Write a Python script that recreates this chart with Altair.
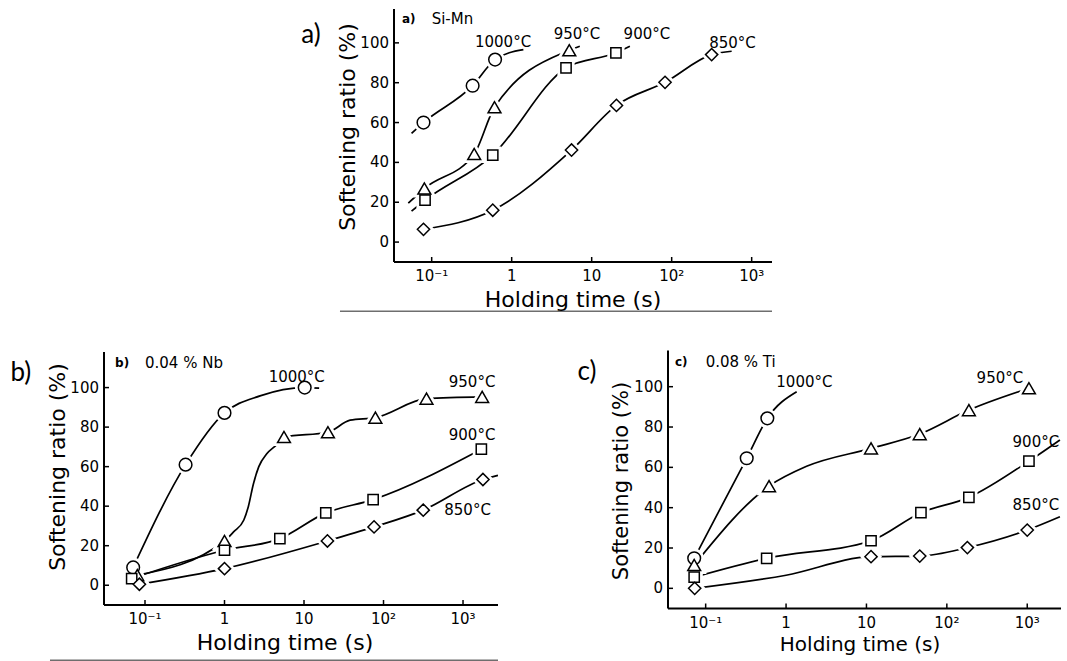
import math
import altair as alt
import pandas as pd

# ---------------- axis ticks ----------------
XTICKS = [0.1, 1, 10, 100, 1000]
XTICK_LABELS = ["10⁻¹", "1", "10", "10²", "10³"]
YTICKS = [0, 20, 40, 60, 80, 100]
YTICK_LABELS = ["0", "20", "40", "60", "80", "100"]
TEMPS = ["1000", "950", "900", "850"]
X_TITLE = "Holding time (s)"
Y_TITLE = "Softening ratio (%)"

# ---------------- panel a) Si-Mn ----------------
a_1000_t = [0.079, 0.325, 0.62]
a_1000_v = [60, 78.5, 91.6]
a_950_t = [0.081, 0.34, 0.61, 5.25]
a_950_v = [26.9, 44.2, 67.7, 96.3]
a_900_t = [0.0826, 0.58, 4.78, 20.1]
a_900_v = [21, 43.7, 87.4, 95]
a_850_t = [0.079, 0.58, 5.6, 20.4, 82.6, 316]
a_850_v = [6.4, 16, 46.2, 68.6, 80.2, 94.1]
# points (curve ends / bends)
a_1000_ct = [0.056, 1.4]
a_1000_cv = [54.6, 96.6]
a_950_ct = [0.051, 7.1]
a_950_cv = [19.5, 98.3]
a_900_ct = [0.056, 30]
a_900_cv = [15.5, 98.3]
a_850_ct = [562]
a_850_cv = [95.8]

# ---------------- panel b) 0.04 % Nb ----------------
b_1000_t = [0.071, 0.324, 1.0, 10.2]
b_1000_v = [9, 61, 87.2, 100]
b_950_t = [0.080, 1.0, 5.6, 20, 79, 347, 1740]
b_950_v = [5.1, 22.4, 75, 77.4, 84.8, 94.4, 95.3]
b_900_t = [0.068, 1.0, 4.97, 18.8, 74, 1700]
b_900_v = [3.4, 17.7, 23.6, 36.6, 43.3, 68.8]
b_850_t = [0.085, 1.0, 19.7, 76, 316, 1780]
b_850_v = [0.5, 8.4, 22.4, 29.5, 38, 53.5]
b_1000_ct = [2.8, 15.5]
b_1000_cv = [95.8, 99.7]
b_950_ct = [1.3, 1.75, 2.0, 2.3, 2.7, 3.4, 4.5, 38]
b_950_cv = [27, 33, 40, 51, 60, 66.5, 71, 83.5]
b_900_ct = []
b_900_cv = []
b_850_ct = [2750]
b_850_cv = [55.6]

# ---------------- panel c) 0.08 % Ti ----------------
c_1000_t = [0.072, 0.324, 0.585]
c_1000_v = [14.9, 64.5, 84.3]
c_950_t = [0.072, 0.614, 11.4, 46, 188, 1050]
c_950_v = [11.6, 50.7, 69.4, 76.5, 88.4, 99.2]
c_900_t = [0.072, 0.574, 11.4, 47.6, 188, 1050]
c_900_v = [5.5, 14.9, 23.6, 37.5, 45.1, 63.1]
c_850_t = [0.073, 11.4, 46, 180, 1000]
c_850_v = [0, 15.7, 16, 20.2, 28.9]
c_1000_ct = [1.355]
c_1000_cv = [97.5]
c_950_ct = [1.8]
c_950_cv = [60.5]
c_900_ct = [2550]
c_900_cv = [73.6]
c_850_ct = [1.0, 2550]
c_850_cv = [6.5, 35.5]

# ---------------- curve labels ----------------
a_lab_text = ["1000°C", "950°C", "900°C", "850°C"]
a_lab_t = [0.78, 6.55, 49, 575]
a_lab_v = [100.5, 104.5, 104.5, 100]
b_lab_text = ["1000°C", "950°C", "900°C", "850°C"]
b_lab_t = [8.1, 1300, 1300, 1140]
b_lab_v = [105.4, 102.8, 75.9, 37.9]
c_lab_text = ["1000°C", "950°C", "900°C", "850°C"]
c_lab_t = [1.69, 457, 1280, 1280]
c_lab_v = [102.5, 104.2, 72.7, 41.3]

sub_tag = {"a": "a)", "b": "b)", "c": "c)"}
sub_name = {"a": "Si-Mn", "b": "0.04 % Nb", "c": "0.08 % Ti"}
sub_pos = {"a": (0.0425, 0.1, 112), "b": (0.042, 0.1, 112.3), "c": (0.0415, 0.1, 112.4)}
letter_pos = {"a": (0.0031, 104), "b": (0.00275, 107.2), "c": (0.00334, 107.3)}
underline = {"a": (0.00714, 1795, -34.7), "b": (0.00638, 2754, -37.9)}

SERIES = {
    "a": {"1000": (a_1000_t, a_1000_v, a_1000_ct, a_1000_cv),
          "950": (a_950_t, a_950_v, a_950_ct, a_950_cv),
          "900": (a_900_t, a_900_v, a_900_ct, a_900_cv),
          "850": (a_850_t, a_850_v, a_850_ct, a_850_cv)},
    "b": {"1000": (b_1000_t, b_1000_v, b_1000_ct, b_1000_cv),
          "950": (b_950_t, b_950_v, b_950_ct, b_950_cv),
          "900": (b_900_t, b_900_v, b_900_ct, b_900_cv),
          "850": (b_850_t, b_850_v, b_850_ct, b_850_cv)},
    "c": {"1000": (c_1000_t, c_1000_v, c_1000_ct, c_1000_cv),
          "950": (c_950_t, c_950_v, c_950_ct, c_950_cv),
          "900": (c_900_t, c_900_v, c_900_ct, c_900_cv),
          "850": (c_850_t, c_850_v, c_850_ct, c_850_cv)},
}
LABELS = {"a": (a_lab_text, a_lab_t, a_lab_v),
          "b": (b_lab_text, b_lab_t, b_lab_v),
          "c": (c_lab_text, c_lab_t, c_lab_v)}

# ---------------- styles / layout ----------------
SHAPE = {"1000": "circle", "950": "triangle-up", "900": "square", "850": "diamond"}
SIZE = {"1000": 160, "950": 165, "900": 105, "850": 150}
FONT = "DejaVu Sans"

CFG = {
    "a": dict(xdom=[0.0338, 1795], xrange=[394, 772], ydom=[-10, 117], yrange=[262, 9],
              xtitle_px=(573, 300), ytitle_px=(348, 127), xts=22, yts=22),
    "b": dict(xdom=[0.0305, 2754], xrange=[104, 498], ydom=[-10, 118], yrange=[605, 352],
              xtitle_px=(285, 643), ytitle_px=(58, 467), xts=22, yts=22),
    "c": dict(xdom=[0.034, 2630], xrange=[668, 1061], ydom=[-10, 118], yrange=[608.5, 350.4],
              xtitle_px=(860, 645), ytitle_px=(622, 481), xts=20, yts=21),
}


def panel(key):
    cfg = CFG[key]
    x0, x1 = cfg["xdom"]
    y0, y1 = cfg["ydom"]
    ppd = (cfg["xrange"][1] - cfg["xrange"][0]) / (math.log10(x1) - math.log10(x0))
    ppu = (cfg["yrange"][0] - cfg["yrange"][1]) / (y1 - y0)

    def px_to_t(px):
        return 10 ** (math.log10(x0) + (px - cfg["xrange"][0]) / ppd)

    def py_to_v(py):
        return y0 + (cfg["yrange"][0] - py) / ppu

    xs = alt.Scale(type="log", domain=cfg["xdom"], range=cfg["xrange"], nice=False)
    ys = alt.Scale(domain=cfg["ydom"], range=cfg["yrange"], nice=False, zero=False)

    def X():
        return alt.X("t:Q", scale=xs, axis=None)

    def Y():
        return alt.Y("v:Q", scale=ys, axis=None)

    pts, line = [], []
    for temp in TEMPS:
        t, v, ct, cv = SERIES[key][temp]
        for x, y in zip(t, v):
            pts.append({"temp": temp, "t": x, "v": y, "shape": SHAPE[temp], "size": SIZE[temp]})
            line.append({"temp": temp, "t": x, "v": y})
        for x, y in zip(ct, cv):
            line.append({"temp": temp, "t": x, "v": y})
    pts_df = pd.DataFrame(pts)
    line_df = pd.DataFrame(line)

    # axis lines
    dom_df = pd.DataFrame({"t": [x0, x0], "v": [y0, y0], "t2": [x1, x0], "v2": [y0, y1]})
    domain = alt.Chart(dom_df).mark_rule(color="black", strokeWidth=2).encode(
        x=X(), y=Y(), x2="t2:Q", y2="v2:Q")

    # inward tick marks
    tick_rows = [{"t": t, "v": y0, "t2": t, "v2": y0 + 5 / ppu} for t in XTICKS]
    tick_rows += [{"t": x0, "v": v, "t2": x0 * 10 ** (5 / ppd), "v2": v} for v in YTICKS]
    ticks = alt.Chart(pd.DataFrame(tick_rows)).mark_rule(color="black", strokeWidth=1.5).encode(
        x=X(), y=Y(), x2="t2:Q", y2="v2:Q")

    # tick labels
    xl_df = pd.DataFrame({"t": XTICKS, "v": [y0] * len(XTICKS), "text": XTICK_LABELS})
    xlab = alt.Chart(xl_df).mark_text(font=FONT, fontSize=15, color="black", align="center",
                                      baseline="middle", dy=14).encode(x=X(), y=Y(), text="text:N")
    yl_df = pd.DataFrame({"t": [x0] * len(YTICKS), "v": YTICKS, "text": YTICK_LABELS})
    ylab = alt.Chart(yl_df).mark_text(font=FONT, fontSize=15, color="black", align="right",
                                      baseline="middle", dx=-5).encode(x=X(), y=Y(), text="text:N")

    # axis titles
    xtp, ytp = cfg["xtitle_px"], cfg["ytitle_px"]
    xt_df = pd.DataFrame({"t": [px_to_t(xtp[0])], "v": [py_to_v(xtp[1])], "text": [X_TITLE]})
    xtitle = alt.Chart(xt_df).mark_text(font=FONT, fontSize=cfg["xts"], color="black",
                                        align="center", baseline="middle").encode(
        x=X(), y=Y(), text="text:N")
    yt_df = pd.DataFrame({"t": [px_to_t(ytp[0])], "v": [py_to_v(ytp[1])], "text": [Y_TITLE]})
    ytitle = alt.Chart(yt_df).mark_text(font=FONT, fontSize=cfg["yts"], color="black",
                                        align="center", baseline="middle", angle=270).encode(
        x=X(), y=Y(), text="text:N")

    lines = alt.Chart(line_df).mark_line(interpolate="monotone", color="black",
                                         strokeWidth=1.7).encode(
        x=X(), y=Y(), detail="temp:N", order="t:Q")

    halo = alt.Chart(pts_df).mark_point(filled=True, fill="white", stroke="white",
                                        strokeWidth=7, opacity=1).encode(
        x=X(), y=Y(), shape=alt.Shape("shape:N", scale=None), size=alt.Size("size:Q", scale=None))
    markers = alt.Chart(pts_df).mark_point(filled=True, fill="white", stroke="black",
                                           strokeWidth=1.5, opacity=1).encode(
        x=X(), y=Y(), shape=alt.Shape("shape:N", scale=None), size=alt.Size("size:Q", scale=None))

    lt, ltt, lvv = LABELS[key]
    lab_df = pd.DataFrame({"text": lt, "t": ltt, "v": lvv})
    labels = alt.Chart(lab_df).mark_text(font=FONT, fontSize=15, color="black", align="center",
                                         baseline="middle").encode(x=X(), y=Y(), text="text:N")

    sx_tag, sx_name, sy = sub_pos[key]
    tag = alt.Chart(pd.DataFrame({"text": [sub_tag[key]], "t": [sx_tag], "v": [sy]})).mark_text(
        font=FONT, fontSize=12, fontWeight="bold", color="black", align="left",
        baseline="middle").encode(x=X(), y=Y(), text="text:N")
    name = alt.Chart(pd.DataFrame({"text": [sub_name[key]], "t": [sx_name], "v": [sy]})).mark_text(
        font=FONT, fontSize=15, color="black", align="left",
        baseline="middle").encode(x=X(), y=Y(), text="text:N")

    lx, ly = letter_pos[key]
    letter = alt.Chart(pd.DataFrame({"text": [sub_tag[key]], "t": [lx], "v": [ly]})).mark_text(
        font="Lato", fontSize=26, color="black", align="center",
        baseline="middle").encode(x=X(), y=Y(), text="text:N")

    layers = [domain, ticks, xlab, ylab, xtitle, ytitle, lines, halo, markers,
              labels, tag, name, letter]
    if key in underline:
        u1, u2, uy = underline[key]
        ul = alt.Chart(pd.DataFrame({"t": [u1], "t2": [u2], "v": [uy]})).mark_rule(
            color="#6e6e6e", strokeWidth=1.5).encode(x=X(), x2="t2:Q", y=Y())
        layers = [ul] + layers
    return alt.layer(*layers)


chart = alt.layer(panel("a"), panel("b"), panel("c")).resolve_scale(
    x="independent", y="independent"
).properties(
    width=1067, height=661, padding=0, autosize=alt.AutoSizeParams(type="none"),
    background="white"
).configure_view(stroke=None)

chart.save("out.html", embed_options={"renderer": "svg", "actions": False})
